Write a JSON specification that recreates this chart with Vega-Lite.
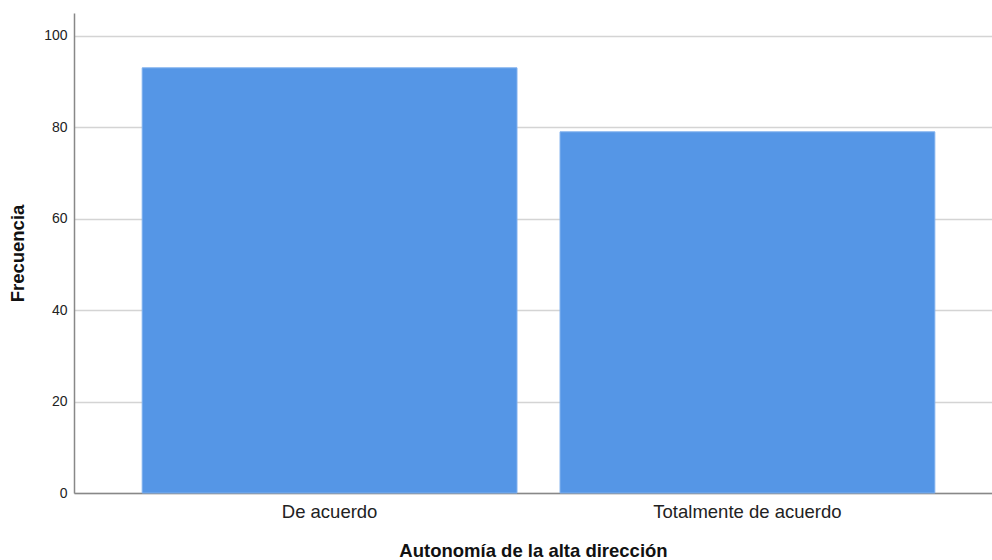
{
  "$schema": "https://vega.github.io/schema/vega-lite/v6.json",
  "autosize": {"type": "none"},
  "width": 918,
  "height": 480,
  "padding": {"left": 74, "top": 13, "right": 0, "bottom": 67},
  "background": "white",
  "data": {"values": [
    {"categoria": "De acuerdo", "frecuencia": 93},
    {"categoria": "Totalmente de acuerdo", "frecuencia": 79}
  ]},
  "mark": {"type": "bar", "color": "#5596E6", "stroke": "#7fb0ee", "strokeWidth": 1},
  "encoding": {
    "x": {
      "field": "categoria", "type": "nominal", "sort": null,
      "scale": {"paddingInner": 0.103, "paddingOuter": 0.15, "align": 0.544},
      "axis": {
        "title": "Autonomía de la alta dirección",
        "labelAngle": 0, "labelFontSize": 18.5, "labelColor": "#222", "labelFont": "Liberation Sans",
        "labelPadding": 9, "labelLimit": 0, "ticks": false, "domainColor": "#888", "domainWidth": 1.5,
        "titleFont": "Liberation Sans", "titleFontSize": 18.5, "titleFontWeight": "bold", "titleColor": "#111",
        "titlePadding": 21, "grid": false
      }
    },
    "y": {
      "field": "frecuencia", "type": "quantitative",
      "scale": {"domain": [0, 105], "nice": false},
      "axis": {
        "title": "Frecuencia", "values": [0, 20, 40, 60, 80, 100],
        "labelFontSize": 14, "labelColor": "#222", "labelFont": "Liberation Sans", "labelPadding": 7,
        "ticks": false, "domainColor": "#888", "domainWidth": 1.5,
        "grid": true, "gridColor": "#d4d4d4", "gridWidth": 1.3,
        "titleFont": "Liberation Sans", "titleFontSize": 18.5, "titleFontWeight": "bold", "titleColor": "#111",
        "titlePadding": 16
      }
    }
  },
  "config": {"view": {"stroke": null}}
}
